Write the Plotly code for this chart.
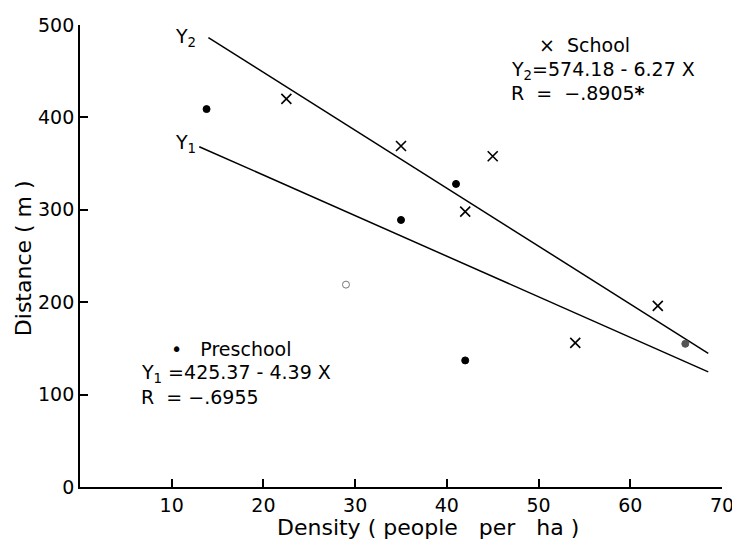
import plotly.graph_objects as go

# ---- data ----
preschool_x = [13.8, 29.0, 35.0, 41.0, 42.0, 66.0]
preschool_y = [409, 219, 289, 328, 137, 155]
school_x = [22.5, 35.0, 42.0, 45.0, 54.0, 63.0]
school_y = [420, 369, 298, 358, 156, 196]

# regression lines  Y = a + b X
y1_coef = [425.37, -4.39]
y1_xrange = [13.0, 68.5]
y2_coef = [574.18, -6.27]
y2_xrange = [14.0, 68.5]

x_ticks = [10, 20, 30, 40, 50, 60, 70]
y_ticks = [0, 100, 200, 300, 400, 500]

FONT = "DejaVu Sans"

def line_pts(coef, xr):
    return xr, [coef[0] + coef[1] * x for x in xr]

fig = go.Figure()

lx1, ly1 = line_pts(y1_coef, y1_xrange)
lx2, ly2 = line_pts(y2_coef, y2_xrange)
fig.add_trace(go.Scatter(x=lx1, y=ly1, mode="lines",
                         line=dict(color="black", width=1.5), showlegend=False))
fig.add_trace(go.Scatter(x=lx2, y=ly2, mode="lines",
                         line=dict(color="black", width=1.5), showlegend=False))

pre_symbols = ["circle", "circle-open", "circle", "circle", "circle", "circle"]
pre_colors = ["black", "#777777", "black", "black", "black", "#555555"]
fig.add_trace(go.Scatter(x=preschool_x, y=preschool_y, mode="markers",
                         marker=dict(symbol=pre_symbols, size=7, color=pre_colors,
                                     line=dict(color=pre_colors, width=1)),
                         showlegend=False))
fig.add_trace(go.Scatter(x=school_x, y=school_y, mode="markers",
                         marker=dict(symbol="x-thin-open", size=10, color="black",
                                     line=dict(color="black", width=1.6)),
                         showlegend=False))

tick_font = dict(family=FONT, size=19, color="black")
ann_font = dict(family=FONT, size=19, color="black")
title_font = dict(family=FONT, size=22, color="black")

annots = [
    dict(x=11.5, y=487, text="Y<sub>2</sub>", xanchor="center"),
    dict(x=11.5, y=372, text="Y<sub>1</sub>", xanchor="center"),
    dict(x=49.8, y=478, text="×  School", xanchor="left"),
    dict(x=46.8, y=451, text="Y<sub>2</sub>=574.18 - 6.27 X", xanchor="left"),
    dict(x=46.8, y=426, text="R  =  −.8905<b>*</b>", xanchor="left"),
    dict(x=9.7, y=149, text="•   Preschool", xanchor="left"),
    dict(x=6.4, y=122.6, text="Y<sub>1</sub> =425.37 - 4.39 X", xanchor="left"),
    dict(x=6.4, y=97, text="R  = −.6955", xanchor="left"),
]
for a in annots:
    fig.add_annotation(xref="x", yref="y", showarrow=False, yanchor="middle",
                       font=ann_font, **a)

# axis titles
fig.add_annotation(xref="paper", yref="paper", x=0.542, y=-0.087, yanchor="middle",
                   xanchor="center", showarrow=False,
                   text="Density ( people   per   ha )", font=title_font)
fig.add_annotation(xref="paper", yref="paper", x=-0.089, y=0.495, xanchor="center",
                   yanchor="middle", showarrow=False, textangle=-90,
                   text="Distance ( m )", font=title_font)

# page body has an 8px margin: figure shifted accordingly
fig.update_layout(
    width=732, height=531, autosize=False,
    margin=dict(l=72, r=9, t=6, b=52),
    paper_bgcolor="white", plot_bgcolor="white",
    font=tick_font,
    xaxis=dict(range=[0, 70], tickvals=x_ticks, ticktext=[str(v) for v in x_ticks],
               ticks="inside", ticklen=8, tickwidth=1.5, tickcolor="black",
               showline=True, linecolor="black", linewidth=1.8,
               ticklabeloverflow="allow",
               showgrid=False, zeroline=False, tickfont=tick_font),
    yaxis=dict(range=[0, 500], tickvals=y_ticks, ticktext=[str(v) for v in y_ticks],
               ticks="inside", ticklen=8, tickwidth=1.5, tickcolor="black",
               showline=True, linecolor="black", linewidth=1.8,
               ticklabeloverflow="allow",
               showgrid=False, zeroline=False, tickfont=tick_font),
)

fig.write_html("out.html")
